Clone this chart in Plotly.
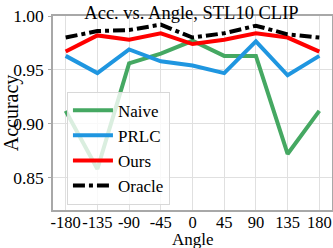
import plotly.graph_objects as go

angles = [-180, -135, -90, -45, 0, 45, 90, 135, 180]
naive = [0.912, 0.858, 0.956, 0.965, 0.977, 0.963, 0.963, 0.872, 0.912]
prlc = [0.963, 0.947, 0.969, 0.958, 0.954, 0.947, 0.9765, 0.945, 0.963]
ours = [0.967, 0.982, 0.978, 0.984, 0.974, 0.978, 0.984, 0.980, 0.967]
oracle = [0.980, 0.986, 0.987, 0.992, 0.980, 0.984, 0.991, 0.983, 0.980]
xtick_labels = ["-180", "-135", "-90", "-45", "0", "45", "90", "135", "180"]
ytick_vals = [0.85, 0.90, 0.95, 1.00]
ytick_labels = ["0.85", "0.90", "0.95", "1.00"]

FONT = "Liberation Serif"

fig = go.Figure()
series = [
    ("Naive", naive, "#45a862", "solid"),
    ("PRLC", prlc, "#1f96e0", "solid"),
    ("Ours", ours, "#ff0000", "solid"),
    ("Oracle", oracle, "#000000", "dashdot"),
]
for name, vals, color, dash in series:
    fig.add_trace(go.Scatter(x=angles, y=vals, name=name, mode="lines",
                             line=dict(color=color, width=4, dash=dash)))

fig.update_layout(
    width=333, height=248,
    margin=dict(l=53, r=1, t=16, b=38, autoexpand=False),
    paper_bgcolor="white", plot_bgcolor="white",
    font=dict(family=FONT, size=17, color="black"),
    title=dict(text="Acc. vs. Angle, STL10 CLIP", x=0.575, xanchor="center",
               yref="container", y=0.975, yanchor="top", pad=dict(t=0, b=0),
               font=dict(size=18.5), automargin=False),
    showlegend=True,
    legend=dict(x=0.05, y=0.61, xanchor="left", yanchor="top",
                bgcolor="rgba(255,255,255,0.8)", bordercolor="#d8d8d8", borderwidth=1,
                font=dict(size=17), tracegroupgap=0, itemwidth=40),
    annotations=[dict(text="Angle", xref="paper", yref="paper", x=0.5, y=-0.15,
                      xanchor="center", yanchor="middle", showarrow=False,
                      font=dict(size=17))],
)
fig.update_xaxes(range=[-198, 198], tickvals=angles, ticktext=xtick_labels,
                 tickangle=0, tickfont=dict(size=16.5), automargin=False,
                 showgrid=True, gridcolor="#e0e0e0", gridwidth=1,
                 showline=True, linecolor="#a8a8a8", linewidth=1.5, mirror=True,
                 ticks="", ticklabelstandoff=-4, zeroline=False)
fig.update_yaxes(range=[0.82, 1.0], tickvals=ytick_vals, ticktext=ytick_labels,
                 tickfont=dict(size=17.5), automargin=False,
                 showgrid=True, gridcolor="#e0e0e0", gridwidth=1,
                 showline=True, linecolor="#a8a8a8", linewidth=1.5, mirror=True,
                 ticks="outside", ticklen=3, tickcolor="#a8a8a8", ticklabelstandoff=1,
                 title=dict(text="Accuracy", standoff=13), zeroline=False)

fig.write_html("out.html", post_script="document.body.style.margin='0';",
               config={"displayModeBar": False})
